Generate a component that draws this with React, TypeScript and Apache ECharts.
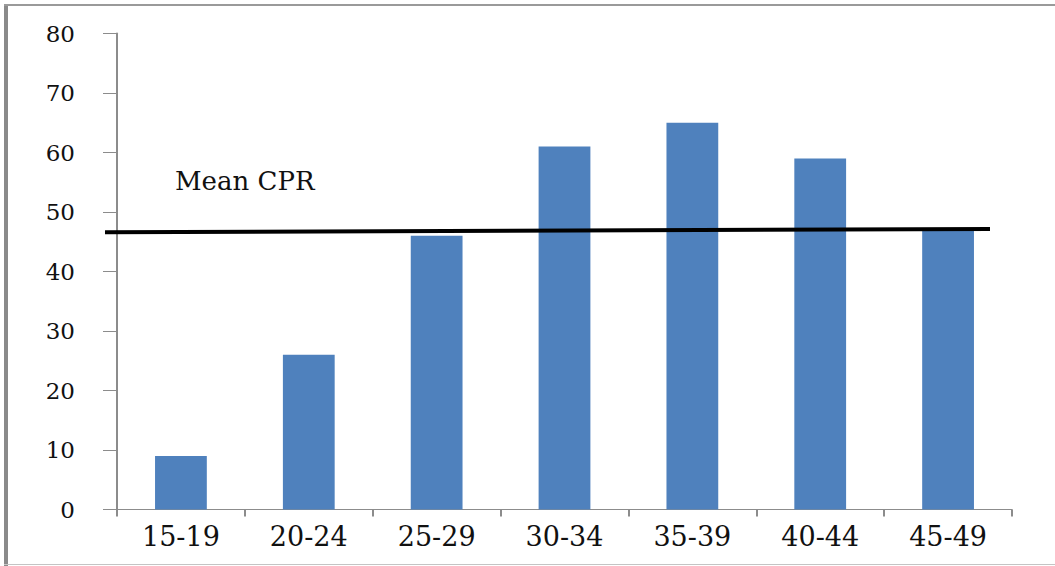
import React, { useEffect, useRef } from "react";
import * as echarts from "echarts";

const categories = ["15-19", "20-24", "25-29", "30-34", "35-39", "40-44", "45-49"];
const cprValues = [9, 26, 46, 61, 65, 59, 47];
const meanLineStartValue = 46.6;
const meanLineEndValue = 47.15;
const meanLabel = "Mean CPR";
const yTicks = { min: 0, max: 80, interval: 10 };

const W = 1055;
const H = 566;
const GRID = { left: 117, right: 43, top: 33.5, bottom: 56.5 };
const FONT = "DejaVu Serif";

export default function App() {
  const ref = useRef<HTMLDivElement>(null);

  useEffect(() => {
    if (!ref.current) return;
    const chart = echarts.init(ref.current, undefined, { renderer: "svg", width: W, height: H });
    const option: any = {
      animation: false,
      backgroundColor: "#ffffff",
      grid: { ...GRID, containLabel: false },
      xAxis: {
        type: "category",
        data: categories,
        axisLine: { show: true, lineStyle: { color: "#8c8c8c", width: 1 } },
        axisTick: { show: true, alignWithLabel: false, length: 7, lineStyle: { color: "#8c8c8c", width: 2 } },
        axisLabel: { color: "#111", fontFamily: FONT, fontSize: 27, margin: 13 },
        splitLine: { show: false },
      },
      yAxis: {
        type: "value",
        min: yTicks.min,
        max: yTicks.max,
        interval: yTicks.interval,
        axisLine: { show: true, lineStyle: { color: "#8c8c8c", width: 2 } },
        axisTick: { show: true, inside: false, length: 14, lineStyle: { color: "#8c8c8c", width: 1 } },
        axisLabel: { color: "#111", fontFamily: FONT, fontSize: 23, margin: 42 },
        splitLine: { show: false },
      },
      series: [
        {
          type: "bar",
          data: cprValues,
          barWidth: "40.5%",
          itemStyle: { color: "#4f81bd" },
        },
      ],
    };
    chart.setOption(option);

    const yStart = chart.convertToPixel({ yAxisIndex: 0 }, meanLineStartValue) as number;
    const yEnd = chart.convertToPixel({ yAxisIndex: 0 }, meanLineEndValue) as number;
    const xLeft = GRID.left - 12;
    const xRight = W - GRID.right - 22;

    chart.setOption({
      graphic: [
        { type: "line", shape: { x1: 6, y1: 4, x2: 6, y2: 566 }, style: { stroke: "#8a8a8a", lineWidth: 4 }, z: 100 },
        { type: "line", shape: { x1: 4, y1: 5, x2: W, y2: 5 }, style: { stroke: "#9a9a9a", lineWidth: 2 }, z: 100 },
        { type: "line", shape: { x1: 4, y1: 564.5, x2: W, y2: 564.5 }, style: { stroke: "#c4c4c4", lineWidth: 1 }, z: 100 },
        {
          type: "line",
          shape: { x1: xLeft, y1: yStart, x2: xRight, y2: yEnd },
          style: { stroke: "#000", lineWidth: 4 },
          z: 100,
        },
        {
          type: "text",
          x: 175,
          y: 181,
          style: {
            text: meanLabel,
            fill: "#111",
            fontFamily: FONT,
            fontSize: 26,
            textAlign: "left",
            verticalAlign: "middle",
          },
          z: 100,
        },
      ],
    });

    return () => chart.dispose();
  }, []);

  return (
    <div
      ref={ref}
      style={{ position: "fixed", left: 0, top: 0, width: W, height: H, background: "#fff" }}
    />
  );
}
